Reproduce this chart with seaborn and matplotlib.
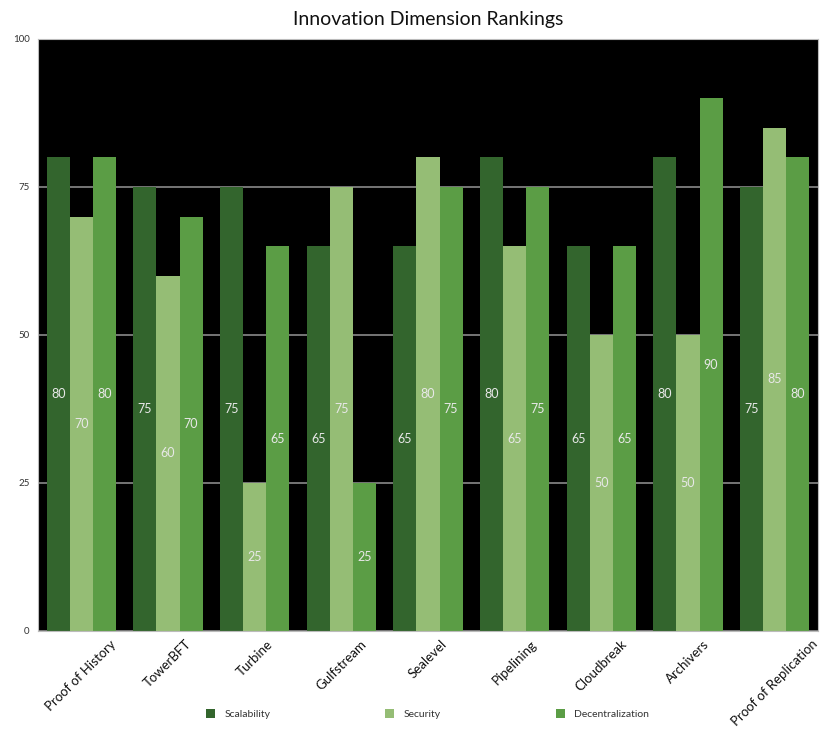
import matplotlib
matplotlib.use("Agg")
import matplotlib.pyplot as plt
import seaborn as sns
import pandas as pd

categories = ["Proof of History", "TowerBFT", "Turbine", "Gulfstream", "Sealevel",
              "Pipelining", "Cloudbreak", "Archivers", "Proof of Replication"]
scalability = [80, 75, 75, 65, 65, 80, 65, 80, 75]
security = [70, 60, 25, 75, 80, 65, 50, 50, 85]
decentralization = [80, 70, 65, 25, 75, 75, 65, 90, 80]
series_names = ["Scalability", "Security", "Decentralization"]
colors = ["#33652d", "#95bd75", "#5b9d45"]
y_ticks = [0, 25, 50, 75, 100]

rows = []
for name, vals in zip(series_names, [scalability, security, decentralization]):
    for c, v in zip(categories, vals):
        rows.append({"Innovation": c, "Dimension": name, "Score": v})
df = pd.DataFrame(rows)

sns.set_theme(style="white")
plt.rcParams["font.family"] = ["Lato", "DejaVu Sans"]

fig = plt.figure(figsize=(8.3, 7.38), dpi=100)
ax = fig.add_axes([0.0458, 0.145, 0.9397, 0.8022])
ax.set_facecolor("black")

sns.barplot(data=df, x="Innovation", y="Score", hue="Dimension", order=categories,
            hue_order=series_names, palette=colors, width=0.8, ax=ax,
            saturation=1, linewidth=0, legend=True)

for container in ax.containers:
    ax.bar_label(container, label_type="center", color="#e8e8e8", fontsize=9,
                 family=["Lato", "DejaVu Sans"])

ax.set_ylim(0, 100)
ax.set_yticks(y_ticks)
ax.set_yticklabels([str(t) for t in y_ticks], fontsize=7, color="#333333")
ax.yaxis.grid(True, color="#8a8a8a", linewidth=1.2)
ax.set_axisbelow(True)
ax.tick_params(axis="y", length=0, pad=6)
ax.tick_params(axis="x", length=0, pad=5)
ax.set_xticks(range(len(categories)))
ax.set_xticklabels(categories, rotation=45, ha="center",
                   fontsize=9.5, color="#111111")
ax.set_xlabel("")
ax.set_ylabel("")
for s in ax.spines.values():
    s.set_color("#bbbbbb")
    s.set_linewidth(0.8)

ax.set_title("Innovation Dimension Rankings", fontsize=14, color="#111111", pad=10)

handles, labels = ax.get_legend_handles_labels()
ax.get_legend().remove()
fig.legend(handles, labels, loc="center", bbox_to_anchor=(0.515, 0.032), ncol=3,
           frameon=False, fontsize=7.5, columnspacing=11, handlelength=0.9,
           handleheight=0.9, handletextpad=0.9, labelcolor="#333333")

fig.savefig("out.png", dpi=100)
